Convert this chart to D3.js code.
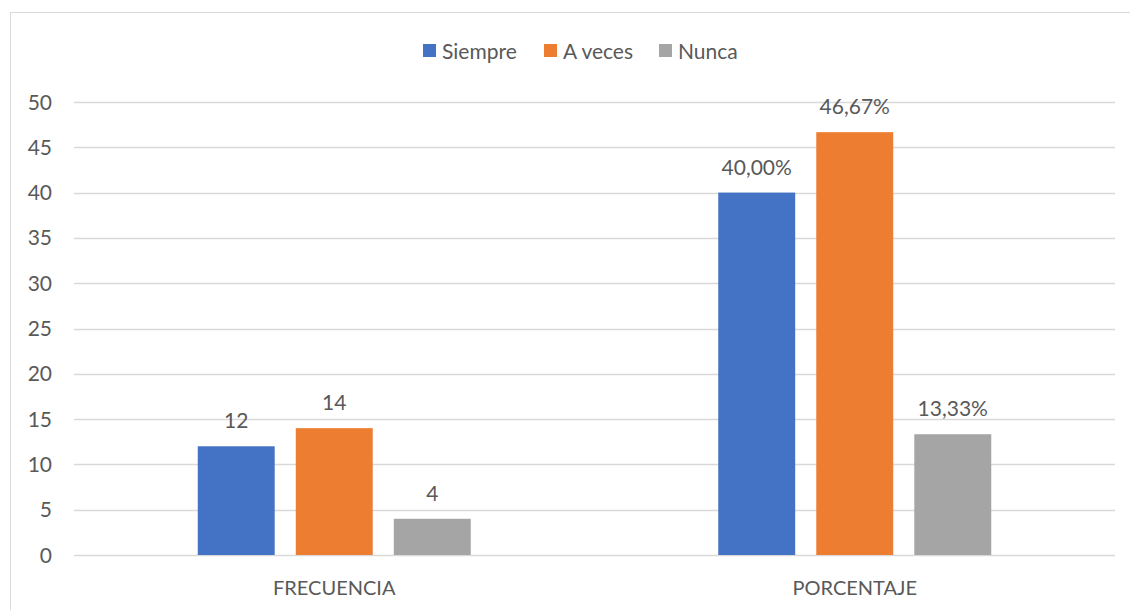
<!DOCTYPE html>
<html>
<head>
<meta charset="utf-8">
<script src="https://cdn.jsdelivr.net/npm/d3@7"></script>
<style>
  body{margin:0;background:#fff;}
  svg text{font-family:"Lato","Open Sans",sans-serif;fill:#595959;}
</style>
</head>
<body>
<div id="chart"></div>
<script>
const categories=["FRECUENCIA","PORCENTAJE"];
const series=["Siempre","A veces","Nunca"];
const colors=["#4472c4","#ed7d31","#a5a5a5"];
const values=[[12,40.00],[14,46.67],[4,13.33]];
const labels=[["12","40,00%"],["14","46,67%"],["4","13,33%"]];
const yTicks=[0,5,10,15,20,25,30,35,40,45,50];

const w=1130, h=610;
const svg=d3.select("#chart").append("svg").attr("width",w).attr("height",h);

svg.append("rect").attr("x",10.5).attr("y",12.5).attr("width",1140).attr("height",620)
  .attr("fill","#fff").attr("stroke","#d9d9d9").attr("stroke-width",1);

const plotL=74, plotR=1115, plotT=102, plotB=555;
const y=d3.scaleLinear().domain([0,50]).range([plotB,plotT]);
const x0=d3.scaleBand().domain(categories).range([plotL,plotR]);
const x1=d3.scaleBand().domain(series).range([0,273]).paddingInner(0.215);

// gridlines
svg.append("g").selectAll("line").data(yTicks).enter().append("line")
  .attr("x1",plotL).attr("x2",plotR)
  .attr("y1",d=>Math.round(y(d))+0.5).attr("y2",d=>Math.round(y(d))+0.5)
  .attr("stroke","#d9d9d9").attr("stroke-width",1.5);

// y tick labels
svg.append("g").selectAll("text").data(yTicks).enter().append("text")
  .attr("x",52).attr("y",d=>y(d)).attr("dy","0.36em")
  .attr("text-anchor","end").style("font-size","21px").text(d=>d);

// bars
series.forEach((s,si)=>{
  const g=svg.append("g");
  categories.forEach((c,ci)=>{
    const gx=x0(c)+x0.bandwidth()/2-136.5;
    const v=values[si][ci];
    g.append("rect")
      .attr("x",gx+x1(s)).attr("y",y(v))
      .attr("width",x1.bandwidth()).attr("height",y(0)-y(v))
      .attr("fill",colors[si]);
    g.append("text")
      .attr("x",gx+x1(s)+x1.bandwidth()/2).attr("y",y(v)-18)
      .attr("text-anchor","middle").style("font-size","21px")
      .text(labels[si][ci]);
  });
});

// category labels
svg.append("g").selectAll("text").data(categories).enter().append("text")
  .attr("x",d=>x0(d)+x0.bandwidth()/2).attr("y",595)
  .attr("text-anchor","middle").style("font-size","20px").text(d=>d);

// legend
const legendX=[423,544,659];
const lg=svg.append("g");
series.forEach((s,i)=>{
  lg.append("rect").attr("x",legendX[i]).attr("y",44).attr("width",13).attr("height",13).attr("fill",colors[i]);
  lg.append("text").attr("x",legendX[i]+19).attr("y",51).attr("dy","0.36em")
    .style("font-size","21px").text(s);
});
</script>
</body>
</html>
